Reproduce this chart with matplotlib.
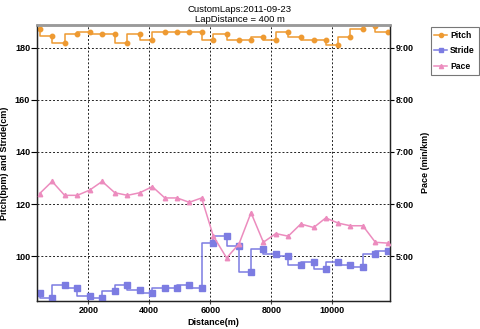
import matplotlib
matplotlib.use("Agg")
import matplotlib.pyplot as plt
from matplotlib.lines import Line2D
from matplotlib.ticker import FixedLocator, FuncFormatter

plt.rcParams['font.family'] = ['Liberation Sans', 'DejaVu Sans']

# Lap end distances (m)
distance = [405, 815, 1225, 1640, 2045, 2455, 2870, 3285, 3690, 4100,
            4510, 4910, 5310, 5715, 6100, 6535, 6940, 7335, 7740, 8145,
            8555, 8965, 9390, 9785, 10195, 10590, 11000, 11410, 11815]

# Cadence per lap (steps/min)
pitch = [187.0, 184.5, 181.9, 185.1, 186.0, 185.1, 185.1, 181.9, 185.1, 182.9,
         186.0, 186.0, 186.0, 186.0, 182.9, 185.1, 182.9, 182.9, 184.2, 182.9,
         186.0, 184.2, 182.9, 182.9, 181.0, 184.2, 187.0, 188.4, 186.0]

# Stride length per lap (cm)
stride = [86.0, 84.0, 88.8, 87.8, 84.9, 84.0, 86.8, 88.8, 86.9, 86.0,
          87.8, 87.8, 88.8, 87.8, 105.0, 107.9, 104.0, 94.0, 102.8, 101.0,
          99.9, 96.8, 97.9, 95.0, 97.8, 96.8, 96.0, 101.0, 101.9]

# Pace per lap (seconds per km)
pace = [372, 386, 370, 370, 376, 386, 373, 370, 373, 380,
        367, 367, 362, 367, 323, 298, 314, 350, 316, 326,
        323, 337, 333, 344, 338, 335, 335, 316, 315]

series_names = ['Pitch', 'Stride', 'Pace']
pace_ticks = [300, 360, 420, 480, 540]
left_ticks = [100, 120, 140, 160, 180]
x_ticks = [2000, 4000, 6000, 8000, 10000]

c_pitch = '#EE9A32'
c_stride = '#7C7CE2'
c_pace = '#EC8CBE'

fig = plt.figure(figsize=(4.8, 3.29), dpi=100)
ax = fig.add_axes([0.0771, 0.0851, 0.7360, 0.8399])
ax2 = ax.twinx()

ylim = (82.8, 188.8)
ax.set_xlim(320, 11900)
ax.set_ylim(*ylim)
# right axis in seconds/km: 1 minute per 20 left-axis units
ax2.set_ylim(ylim[0] * 3, ylim[1] * 3)

ax.step(distance, pitch, where='pre', color=c_pitch, lw=1.1, zorder=3)
ax.plot(distance, pitch, 'o', color=c_pitch, ms=3.2, zorder=4)
ax.step(distance, stride, where='pre', color=c_stride, lw=1.1, zorder=3)
ax.plot(distance, stride, 's', color=c_stride, ms=4.2, zorder=4)
ax2.plot(distance, pace, '-^', color=c_pace, lw=1.1, ms=3.2, zorder=3)

ax.xaxis.set_major_locator(FixedLocator(x_ticks))
ax.yaxis.set_major_locator(FixedLocator(left_ticks))
ax2.yaxis.set_major_locator(FixedLocator(pace_ticks))
ax2.yaxis.set_major_formatter(FuncFormatter(lambda v, p: f"{int(v // 60)}:{int(v % 60):02d}"))

ax.grid(True, color='#222222', lw=0.7, linestyle=(0, (2, 2)))

for a in (ax, ax2):
    for lab in a.get_xticklabels() + a.get_yticklabels():
        lab.set_fontweight('bold')
ax.tick_params(axis='x', length=2, pad=1.5, color='#444444', labelsize=6.5)
ax.tick_params(axis='y', length=4, pad=1, width=0.8, labelsize=6.5)
ax2.tick_params(axis='y', length=3, pad=1, width=0.8, labelsize=6.5)

for a in (ax, ax2):
    for s in ('left', 'right', 'bottom'):
        a.spines[s].set_color('#222222')
        a.spines[s].set_linewidth(0.9)
    a.spines['top'].set_color('#9a9a9a')
    a.spines['top'].set_linewidth(1.8)

ax.set_xlabel('Distance(m)', fontsize=6.5, fontweight='bold', labelpad=2)
ax.set_ylabel('Pitch(bpm) and Stride(cm)', fontsize=6.5, fontweight='bold', labelpad=4)
ax2.set_ylabel('Pace (min/km)', fontsize=6.5, fontweight='bold', labelpad=5)

fig.text(0.5, 0.985, 'CustomLaps:2011-09-23\nLapDistance = 400 m',
         ha='center', va='top', fontsize=6.8, linespacing=1.15)

handles = [
    Line2D([], [], color=c_pitch, marker='o', ms=3, lw=1.1),
    Line2D([], [], color=c_stride, marker='s', ms=3.5, lw=1.1),
    Line2D([], [], color=c_pace, marker='^', ms=3, lw=1.1),
]
leg = fig.legend(handles, series_names, loc='upper left',
                 bbox_to_anchor=(0.897, 0.918), frameon=True, fancybox=False,
                 handlelength=1.5, handletextpad=0.3, borderpad=0.45,
                 labelspacing=0.75, prop=dict(size=6.2, weight='bold'),
                 borderaxespad=0)
leg.get_frame().set_edgecolor('#555555')
leg.get_frame().set_linewidth(0.8)

fig.savefig('out.png', dpi=100, facecolor='white')
